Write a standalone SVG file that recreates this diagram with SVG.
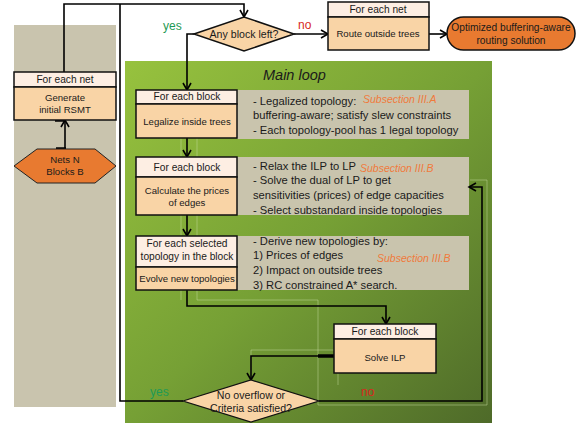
<svg xmlns="http://www.w3.org/2000/svg" width="580" height="427" viewBox="0 0 580 427">
<defs>
<linearGradient id="gr" x1="0" y1="0" x2="1" y2="1">
<stop offset="0" stop-color="#97c23e"/>
<stop offset="0.5" stop-color="#76a035"/>
<stop offset="1" stop-color="#4e6a29"/>
</linearGradient>
<marker id="ah" markerWidth="10" markerHeight="10" refX="8" refY="5" orient="auto" markerUnits="userSpaceOnUse">
<path d="M1,1 L8,5 L1,9" fill="none" stroke="#000" stroke-width="1.6"/>
</marker>
</defs>
<style>
text{font-family:"Liberation Sans",Arial,sans-serif;fill:#1a1a1a}
.bt{font-size:9.6px;text-anchor:middle}
.ht{font-size:10.2px;text-anchor:middle}
.dmt{font-size:10.6px;text-anchor:middle}
.dt{font-size:11.2px}
.sub{font-size:10.5px;font-style:italic;fill:#f07a3c}
.hd{fill:#fdeee3;stroke:#111;stroke-width:1.5}
.bd{fill:#f9d4a6;stroke:#111;stroke-width:1.5}
.pn{fill:#c9c4ad}
.cn{fill:none;stroke:#000;stroke-width:1.6}
.th{stroke:#000;stroke-width:3.5}
.gl{fill:none;stroke:#c9dca0;stroke-width:0.8;opacity:0.6}
.yes{font-size:12px;fill:#1f9a55}
.no{font-size:12px;fill:#d8281e}
</style>
<rect width="580" height="427" fill="#fff"/>
<g id="panels">
<rect x="14" y="25" width="102" height="382" fill="#c9c4ae"/>
<rect x="125" y="61" width="367" height="362" fill="url(#gr)"/>
<path class="gl" d="M181 92 V300 M197 92 V300 M318 300 V405 H487 V180 H470 M197 300 H318 M251 350 V380 M251 350 H338 V385"/>
<text x="263" y="80" style="font-size:14.5px;font-style:italic">Main loop</text>
<rect class="pn" x="237" y="90" width="232" height="49"/>
<rect class="pn" x="237" y="157" width="232" height="58"/>
<rect class="pn" x="237" y="236" width="232" height="54"/>
</g>
<g id="connectors">
<path class="cn" d="M183 401 H120 V4"/>
<path class="cn" d="M64 72 V4 H244 V17" marker-end="url(#ah)"/>
<path class="cn" d="M194 34 H187 V90" marker-end="url(#ah)"/>
<path class="cn" d="M294 34 H328" marker-end="url(#ah)"/>
<path class="cn" d="M429 34 H447" marker-end="url(#ah)"/>
<path class="cn" d="M65 149 V120" marker-end="url(#ah)"/>
<path class="cn" d="M187 138 V157" marker-end="url(#ah)"/>
<path class="cn" d="M187 215 V236" marker-end="url(#ah)"/>
<path class="cn" d="M187 290 V306 H386 V324" marker-end="url(#ah)"/>
<path class="cn" d="M334 356 H251 V380" marker-end="url(#ah)"/>
<path class="cn" d="M319 401 H482 V187 H469" marker-end="url(#ah)"/>
<line class="th" x1="55" y1="120" x2="66" y2="120"/>
<line class="th" x1="56" y1="149" x2="66" y2="149"/>
<line class="th" x1="318" y1="356" x2="334" y2="356"/>
<text class="yes" x="163" y="30">yes</text>
<text class="no" x="298" y="29">no</text>
<text class="yes" x="150" y="396">yes</text>
<text class="no" x="361" y="396">no</text>
</g>
<g id="net-box">
<rect class="hd" x="14" y="72" width="102" height="15"/>
<rect class="bd" x="14" y="87" width="102" height="33"/>
<text class="ht" x="65" y="83">For each net</text>
<text class="bt" x="65" y="101">Generate</text>
<text class="bt" x="65" y="113">initial RSMT</text>
</g>
<g id="nets-blocks">
<polygon points="14,166 37,149 95,149 116,166 95,183 37,183" fill="#e87a30" stroke="#222" stroke-width="1"/>
<text class="bt" x="65" y="163">Nets N</text>
<text class="bt" x="65" y="175">Blocks B</text>
</g>
<g id="any-block">
<polygon points="194,34 244,17 294,34 244,51" fill="#f9d4a6" stroke="#111" stroke-width="1.5"/>
<text class="dmt" x="244" y="38">Any block left?</text>
</g>
<g id="route-outside">
<rect class="hd" x="328" y="2" width="101" height="15"/>
<rect class="bd" x="328" y="17" width="101" height="33"/>
<text class="ht" x="378" y="13">For each net</text>
<text class="bt" x="378" y="37">Route outside trees</text>
</g>
<g id="solution">
<rect x="447" y="17" width="128" height="33" rx="16.5" fill="#e87a30" stroke="#111" stroke-width="1.5"/>
<text class="ht" x="511" y="31">Optimized buffering-aware</text>
<text class="ht" x="511" y="44">routing solution</text>
</g>
<g id="legalize">
<rect class="hd" x="136" y="90" width="101" height="14"/>
<rect class="bd" x="136" y="104" width="101" height="34"/>
<text class="ht" x="187" y="100">For each block</text>
<text class="bt" x="187" y="125">Legalize inside trees</text>
<text class="dt" x="253" y="105">- Legalized topology:</text>
<text class="sub" x="363" y="103">Subsection III.A</text>
<text class="dt" x="253" y="119">buffering-aware; satisfy slew constraints</text>
<text class="dt" x="253" y="134">- Each topology-pool has 1 legal topology</text>
</g>
<g id="prices">
<rect class="hd" x="136" y="157" width="101" height="20"/>
<rect class="bd" x="136" y="177" width="101" height="38"/>
<text class="ht" x="187" y="171">For each block</text>
<text class="bt" x="187" y="194">Calculate the prices</text>
<text class="bt" x="187" y="206">of edges</text>
<text class="dt" x="253" y="170">- Relax the ILP to LP</text>
<text class="sub" x="360" y="172">Subsection III.B</text>
<text class="dt" x="253" y="184">- Solve the dual of LP to get</text>
<text class="dt" x="253" y="199">sensitivities (prices) of edge capacities</text>
<text class="dt" x="253" y="214">- Select substandard inside topologies</text>
</g>
<g id="evolve">
<rect class="hd" x="136" y="236" width="101" height="31"/>
<rect class="bd" x="136" y="267" width="101" height="23"/>
<text class="ht" x="187" y="247">For each selected</text>
<text class="ht" x="187" y="260">topology in the block</text>
<text class="bt" x="187" y="282">Evolve new topologies</text>
<text class="dt" x="253" y="245">- Derive new topologies by:</text>
<text class="dt" x="253" y="259">1) Prices of edges</text>
<text class="sub" x="377" y="262">Subsection III.B</text>
<text class="dt" x="253" y="274">2) Impact on outside trees</text>
<text class="dt" x="253" y="289">3) RC constrained A* search.</text>
</g>
<g id="solve-ilp">
<rect class="hd" x="334" y="324" width="102" height="15"/>
<rect class="bd" x="334" y="339" width="102" height="34"/>
<text class="ht" x="385" y="335">For each block</text>
<text class="bt" x="385" y="361">Solve ILP</text>
</g>
<g id="criteria">
<polygon points="183,401 251,380 319,401 251,422" fill="#f9d4a6" stroke="#111" stroke-width="1.2"/>
<text class="dmt" x="251" y="399">No overflow or</text>
<text class="dmt" x="251" y="412">Criteria satisfied?</text>
</g>
</svg>
